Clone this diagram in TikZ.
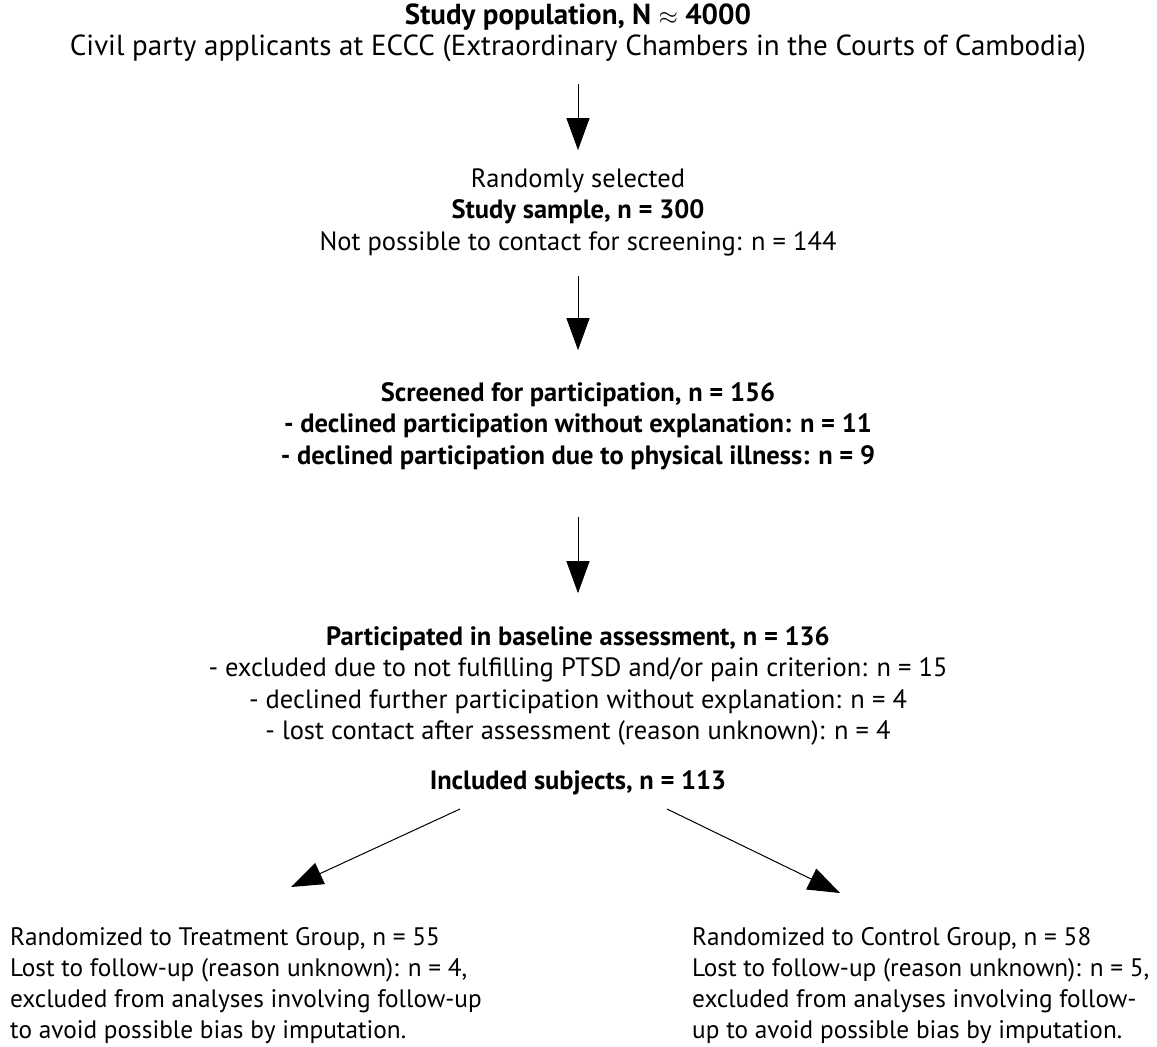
\documentclass[tikz,border=0pt]{standalone}
\usepackage{fontspec}
\setmainfont{PT Sans}
\usetikzlibrary{arrows.meta}
\begin{document}
\begin{tikzpicture}[x=1pt,y=-1pt,
  txt/.style={inner sep=0pt, align=center, font=\fontsize{26.5}{31.5}\selectfont},
  ltxt/.style={inner sep=0pt, align=left, font=\fontsize{25.3}{31.2}\selectfont},
  arr/.style={-{Triangle[length=32pt,width=23pt]}, line width=1pt}]
\useasboundingbox (0,0) rectangle (1157,1047);
\node[txt, font=\fontsize{29}{31.5}\selectfont] (pop) at (578,33) {\textbf{Study population, N $\approx$ 4000}\\Civil party applicants at ECCC (Extraordinary Chambers in the Courts of Cambodia)};
\node[txt] (samp) at (578,212) {Randomly selected\\\textbf{Study sample, n = 300}\\Not possible to contact for screening: n = 144};
\node[txt, font=\fontsize{26.5}{31.5}\selectfont\bfseries] (scr) at (578,426) {Screened for participation, n = 156\\- declined participation without explanation: n = 11\\- declined participation due to physical illness: n = 9};
\node[txt] (base) at (578,686) {\textbf{Participated in baseline assessment, n = 136}\\- excluded due to not fulfilling PTSD and/or pain criterion: n = 15\\- declined further participation without explanation: n = 4\\- lost contact after assessment (reason unknown): n = 4};
\node[txt, font=\fontsize{26.5}{31.5}\selectfont\bfseries] (inc) at (578,783) {Included subjects, n = 113};
\node[ltxt, anchor=north west] (treat) at (10,927) {Randomized to Treatment Group, n = 55\\Lost to follow-up (reason unknown): n = 4,\\excluded from analyses involving follow-up\\to avoid possible bias by imputation.};
\node[ltxt, anchor=north west] (ctrl) at (692,927) {Randomized to Control Group, n = 58\\Lost to follow-up (reason unknown): n = 5,\\excluded from analyses involving follow-\\up to avoid possible bias by imputation.};
\coordinate (incL) at (460,809);
\coordinate (incR) at (667,809);
\coordinate (treatT) at (291,887);
\coordinate (ctrlT) at (840,893);
\draw[arr, shorten <=22pt, shorten >=18pt] (pop.south) -- (samp.north);
\draw[arr, shorten <=20pt, shorten >=32pt] (samp.south) -- (scr.north);
\draw[arr, shorten <=47pt, shorten >=33pt] (scr.south) -- (base.north);
\draw[arr] (incL) -- (treatT);
\draw[arr] (incR) -- (ctrlT);
\end{tikzpicture}
\end{document}
